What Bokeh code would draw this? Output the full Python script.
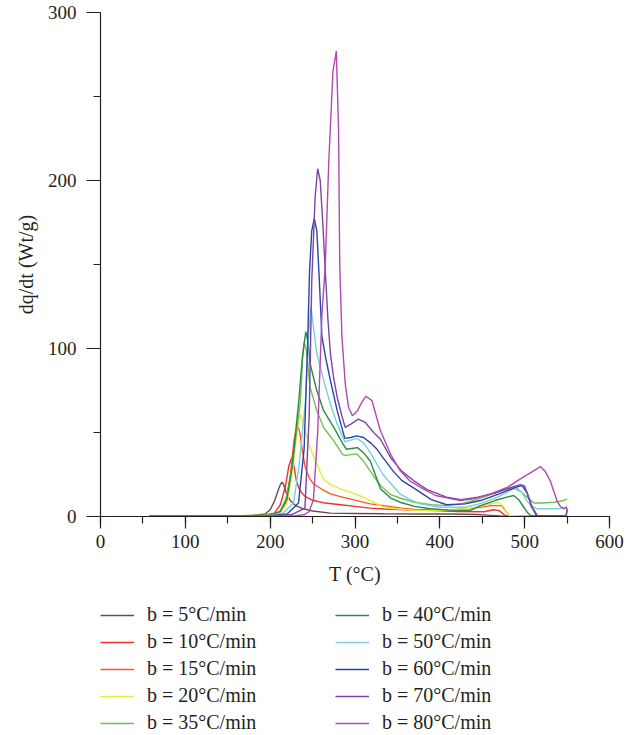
from bokeh.plotting import figure
from bokeh.layouts import column
from bokeh.models import Range1d, SingleIntervalTicker, Legend, LegendItem
from bokeh.embed import file_html
from bokeh.resources import INLINE

# ---- data ----
labels = ["b = 5°C/min", "b = 10°C/min", "b = 15°C/min", "b = 20°C/min", "b = 35°C/min",
          "b = 40°C/min", "b = 50°C/min", "b = 60°C/min", "b = 70°C/min", "b = 80°C/min"]
colors = ["#6e4a4a", "#ee3030", "#fa5a1e", "#eaea3a", "#72c24e",
          "#2a8a44", "#78d0e0", "#2c44a6", "#7c44a4", "#b24aae"]

t_5 = [58, 100, 150, 180, 194, 200, 205, 209, 212, 214, 216, 219, 223.6, 230, 239, 250, 271, 300, 334, 380, 412, 444, 460, 471, 490, 520, 550]
q_5 = [0.3, 0.2, 0.3, 0.6, 1.5, 4, 9, 15, 19, 20.4, 19, 14, 9.5, 6.5, 4.6, 3.3, 2.0, 1.8, 1.6, 1.5, 1.5, 1.2, 0.7, 0.3, 0.1, 0.1, 0.2]

t_10 = [58, 100, 150, 190, 205, 212, 218, 222, 225.6, 228, 231, 235, 241, 251, 265, 283, 300, 318, 334, 360, 393, 420, 452, 463, 470, 477, 500, 550]
q_10 = [0.4, 0.2, 0.3, 0.6, 2, 7, 18, 30, 35.3, 30, 21, 15.5, 12, 9.5, 8, 7, 6, 5, 4.5, 4, 3.5, 3, 2.8, 4, 3.5, 0.6, 0.1, 0.2]

t_15 = [58, 100, 150, 195, 210, 218, 224, 228, 232, 235, 237.4, 241.3, 246, 251, 260, 271, 285, 294, 306, 318, 334, 355, 373, 400, 432, 455, 460, 473, 478, 482, 500, 550]
q_15 = [0.3, 0.2, 0.3, 0.6, 2, 8, 25, 45, 55, 50, 41, 29.3, 23, 19.4, 16.5, 13.5, 11.5, 10.5, 9, 7.5, 6.5, 5, 4, 3.8, 4.5, 6, 6.5, 6.5, 3, 0.5, 0.1, 0.2]

t_20 = [58, 100, 150, 200, 212, 220, 226, 231, 235.4, 238, 241.3, 247, 255, 263, 271, 285, 294, 305, 314, 318, 326, 334, 350, 373, 400, 432, 455, 469, 475, 481, 500, 550]
q_20 = [0.3, 0.2, 0.3, 0.7, 2, 8, 25, 48, 61, 57, 51, 41, 31.3, 22, 19, 16, 14.5, 12.5, 10.5, 9.5, 7.5, 5.5, 4.5, 3.6, 3.5, 4.5, 7, 8.5, 6, 0.6, 0.1, 0.2]

t_35 = [58, 100, 150, 200, 212, 219.7, 226, 231, 235.4, 238, 240, 243, 247, 255, 263, 275, 285, 288, 295, 302, 310, 318, 326, 330, 342, 353, 370, 390, 408, 425, 440, 460, 479, 487, 495, 503, 511, 520, 535, 546, 550]
q_35 = [0.3, 0.2, 0.3, 0.8, 3, 12, 30, 50, 67, 92, 104, 98, 77, 63, 53, 45, 37.3, 36.3, 36.8, 37.3, 33, 27, 21, 18.5, 13, 11, 8.5, 7, 6.5, 7.5, 9.5, 13, 16.5, 17, 15, 11.5, 8, 8, 8.5, 9.5, 10.5]

t_40 = [58, 100, 150, 200, 212, 219.7, 226, 233.4, 238, 242, 245, 247, 255, 263, 275, 286, 290, 296, 303, 310, 318, 326, 330, 342, 353, 370, 389, 410, 436, 448, 465, 479, 487, 493, 499, 503, 507, 515, 550]
q_40 = [0.3, 0.2, 0.3, 0.8, 3, 10, 30, 67, 95, 110, 103, 91, 75, 63, 53, 43, 40, 40.5, 41, 38, 33, 22, 16.5, 11, 8.5, 6, 4.6, 3.8, 3.6, 6.5, 9.5, 11.5, 12.5, 10, 5.5, 2.5, 0.6, 0.3, 0.5]

t_50 = [58, 100, 150, 200, 215, 227.5, 234, 241.3, 245, 248, 251, 255, 263, 271, 279, 288, 295, 302, 310, 318, 326, 333, 345, 353, 365, 377, 400, 430, 450, 470, 487, 491, 497, 503, 507, 515, 542, 548, 550]
q_50 = [0.3, 0.2, 0.3, 0.6, 2, 8, 30, 67, 105, 125, 113, 97, 81, 67, 55, 44.5, 45.5, 46.5, 44, 38, 31, 25, 18, 13.5, 10, 7.5, 5.5, 5.5, 8, 12, 16.5, 17, 14, 9, 6.5, 4.6, 4.6, 5.5, 6]

t_60 = [58, 100, 150, 200, 220, 233.4, 240, 244, 246.4, 249, 252, 255, 258, 261, 266, 271, 279, 288, 295, 302, 310, 318, 326, 333, 345, 355, 369, 390, 408, 430, 448, 470, 490, 497, 503, 508, 514, 530, 545, 548, 550]
q_60 = [0.3, 0.2, 0.3, 0.5, 1.5, 8, 40, 100, 146, 170, 177.5, 170, 140, 107, 93, 81, 63, 46.5, 47, 48, 47, 44, 40, 35, 27, 21.5, 17, 10, 7, 7.5, 9.5, 13.5, 17.5, 18.4, 14, 6, 0.5, 0.2, 0, -3, 4]

t_70 = [58, 100, 150, 200, 225, 241, 246, 249, 253, 256, 259, 262, 265, 268, 271, 275, 279, 285, 288.5, 295, 304, 312, 322, 330, 342, 355, 369, 385, 408, 425, 445, 465, 485, 495, 500, 505, 509, 515, 530, 545, 548, 550]
q_70 = [0.3, 0.2, 0.3, 0.4, 1, 5, 60, 140, 190, 207, 200, 175, 146, 118, 97, 82, 71, 59, 53, 55, 58, 56, 50, 46, 35, 27, 21.4, 16, 11.5, 10, 11.5, 14, 17.5, 19, 18, 11, 5.5, 0.5, 0.2, 0, -3, 5]

t_80 = [58, 100, 150, 200, 230, 240, 246, 251, 256, 261, 265, 269, 274, 278, 280.6, 282, 284.6, 288.5, 292.4, 297, 303, 308, 313, 320, 326, 330, 342, 353, 365, 377, 395, 424, 440, 460, 480, 495, 510, 518.6, 524, 530, 535, 538, 542, 546, 550]
q_80 = [0.3, 0.2, 0.3, 0.3, 0.5, 1, 3, 10, 50, 120, 150, 210, 265, 277, 230, 150, 107, 79, 65, 60, 63, 68, 71.6, 69, 58, 51, 37, 27.4, 21, 17.4, 12.5, 9.5, 10.5, 13.5, 17.5, 22.4, 27, 29.7, 27, 21.4, 14, 9.5, 6, 4.6, 5.5]

series_t = [t_5, t_10, t_15, t_20, t_35, t_40, t_50, t_60, t_70, t_80]
series_q = [q_5, q_10, q_15, q_20, q_35, q_40, q_50, q_60, q_70, q_80]

x_ticks_interval = 100
y_ticks_interval = 100

FONT = "Liberation Serif"
TXT = "#231f20"

p = figure(width=630, height=590, x_range=Range1d(0, 600), y_range=Range1d(0, 300),
           output_backend="svg", toolbar_location=None,
           min_border_left=100, min_border_right=21, min_border_top=12, min_border_bottom=74)
p.grid.visible = False
p.outline_line_color = None

for t, q, c in zip(series_t, series_q, colors):
    p.line(t, q, line_color=c, line_width=1.4)

for ax, interval, tick_out in ((p.xaxis[0], x_ticks_interval, 12), (p.yaxis[0], y_ticks_interval, 14)):
    ax.ticker = SingleIntervalTicker(interval=interval, num_minor_ticks=2)
    ax.major_tick_out = tick_out
    ax.major_tick_in = 0
    ax.minor_tick_out = 7
    ax.minor_tick_in = 0
    ax.axis_line_color = TXT
    ax.major_tick_line_color = TXT
    ax.minor_tick_line_color = TXT
    ax.axis_line_width = 1.2
    ax.major_tick_line_width = 1.2
    ax.minor_tick_line_width = 1.2
    ax.major_label_text_font = FONT
    ax.major_label_text_font_size = "19px"
    ax.major_label_text_color = TXT
    ax.axis_label_text_font = FONT
    ax.axis_label_text_font_size = "20px"
    ax.axis_label_text_font_style = "normal"
    ax.axis_label_text_color = TXT

p.xaxis.axis_label = "T (°C)"
p.yaxis.axis_label = "dq/dt (Wt/g)"
p.xaxis.major_label_standoff = 6
p.xaxis.axis_label_standoff = 12
p.yaxis.major_label_standoff = 10
p.yaxis.axis_label_standoff = 8

# ---- legend in its own strip below the chart ----
# the strip's ranges lie outside the data, so its copies of the series stay hidden
lg = figure(width=630, height=144, x_range=Range1d(-2, -1), y_range=Range1d(-2, -1),
            output_backend="svg", toolbar_location=None,
            min_border_left=100, min_border_right=0, min_border_top=13, min_border_bottom=0)
lg.axis.visible = False
lg.grid.visible = False
lg.outline_line_color = None

proxies = [lg.line(t, q, line_color=c, line_width=1.5, line_cap="butt", line_join="miter")
           for t, q, c in zip(series_t, series_q, colors)]
items = [LegendItem(label=l, renderers=[r]) for l, r in zip(labels, proxies)]
legend = Legend(items=items, location="top_left", orientation="vertical", nrows=5,
                glyph_width=34, glyph_height=4, label_height=20, label_width=184,
                label_standoff=13, spacing=4, padding=0, margin=0,
                border_line_color=None, background_fill_alpha=0,
                label_text_font=FONT, label_text_font_size="20px", label_text_color=TXT)
lg.add_layout(legend)

open("out.html", "w").write(file_html(column(p, lg, spacing=0), INLINE))
